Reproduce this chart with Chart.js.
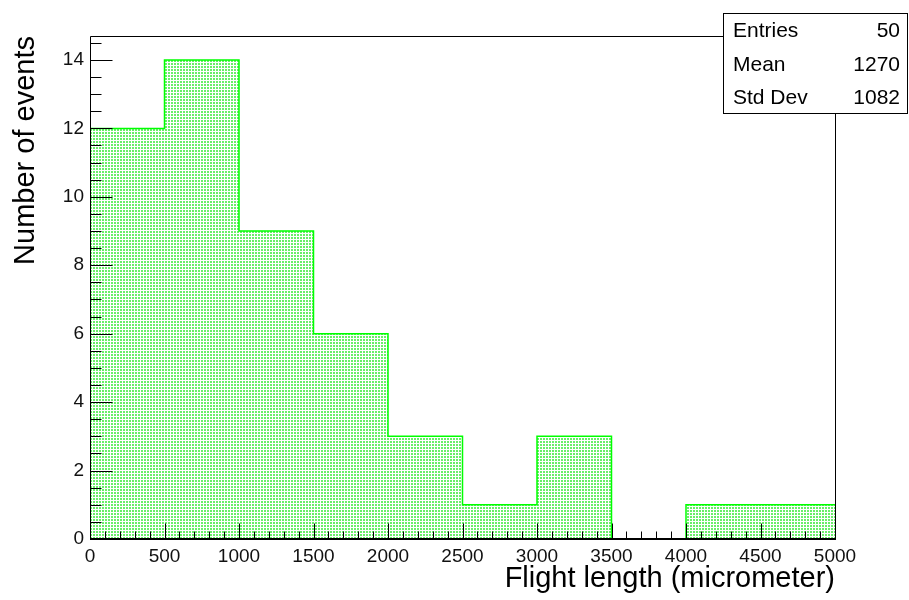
<!DOCTYPE html>
<html>
<head>
<meta charset="utf-8">
<script src="https://cdn.jsdelivr.net/npm/chart.js@4"></script>
<style>
  html, body { margin: 0; padding: 0; background: #fff; }
  #wrap { width: 909px; height: 600px; }
</style>
</head>
<body>
<div id="wrap"><canvas id="myChart" width="909" height="600"></canvas></div>
<script>
// histogram data (bin width 500 micrometer)
const binEdges = [0, 500, 1000, 1500, 2000, 2500, 3000, 3500, 4000, 4500, 5000];
const counts = [12, 14, 9, 6, 3, 1, 3, 0, 1, 1];
const xTickStep = 500;
const yTickStep = 2;
const statsLabels = ["Entries", "Mean", "Std Dev"];
const statsValues = ["50", "1270", "1082"];

const FONT = "'Liberation Sans', Arial, Helvetica, sans-serif";

// dotted green fill like ROOT's fill style
function makePattern() {
  const c = document.createElement("canvas");
  c.width = 3;
  c.height = 3;
  const g = c.getContext("2d");
  g.fillStyle = "#fff";
  g.fillRect(0, 0, 3, 3);
  g.fillStyle = "rgb(105,238,105)";
  g.fillRect(0, 0, 2, 2);
  return g.createPattern(c, "repeat");
}

// step outline points: left edge of every bin, then the last right edge
const points = counts.map((v, i) => ({ x: binEdges[i], y: v }));
points.push({ x: binEdges[binEdges.length - 1], y: counts[counts.length - 1] });

// frame + inward ticks (major and minor) like ROOT axes
const frameTicks = {
  id: "frameTicks",
  afterDatasetsDraw(chart) {
    const { ctx, chartArea: a, scales } = chart;
    const xs = scales.x, ys = scales.y;
    ctx.save();
    ctx.strokeStyle = "#000";
    ctx.lineWidth = 1;
    ctx.beginPath();
    ctx.rect(Math.round(a.left) + 0.5, Math.round(a.top) + 0.5,
      Math.round(a.right - a.left), Math.round(a.bottom - a.top));
    ctx.stroke();
    // bottom axis line a bit heavier
    ctx.fillStyle = "#000";
    ctx.fillRect(Math.round(a.left), Math.round(a.bottom) - 1, Math.round(a.right - a.left) + 1, 2);

    ctx.beginPath();
    const xb = Math.round(a.bottom) + 0.5;
    for (let v = xs.min; v <= xs.max + 1e-6; v += 100) {
      const px = Math.round(xs.getPixelForValue(v)) + 0.5;
      const len = (Math.abs(v % xTickStep) < 1e-6) ? 16 : 8;
      ctx.moveTo(px, xb);
      ctx.lineTo(px, xb - len);
    }
    const yl = Math.round(a.left) + 0.5;
    for (let v = 0; v <= ys.max + 1e-6; v += 0.5) {
      const py = Math.round(ys.getPixelForValue(v)) + 0.5;
      const len = (Math.abs(v % yTickStep) < 1e-6) ? 22 : 11;
      ctx.moveTo(yl, py);
      ctx.lineTo(yl + len, py);
    }
    ctx.stroke();
    ctx.restore();
  }
};

// statistics box in the upper right corner
const statsBox = {
  id: "statsBox",
  afterDraw(chart) {
    const ctx = chart.ctx;
    const left = 723, top = 13, right = chart.width - 2, bottom = 113;
    ctx.save();
    ctx.fillStyle = "#fff";
    ctx.fillRect(left, top, right - left, bottom - top);
    ctx.strokeStyle = "#000";
    ctx.lineWidth = 1;
    ctx.strokeRect(left + 0.5, top + 0.5, right - left, bottom - top);
    ctx.fillStyle = "#000";
    ctx.font = "21px " + FONT;
    ctx.textBaseline = "middle";
    const rowH = (bottom - top) / statsLabels.length;
    statsLabels.forEach((lab, i) => {
      const y = top + rowH * (i + 0.5) + 2;
      ctx.textAlign = "left";
      ctx.fillText(lab, left + 10, y);
      ctx.textAlign = "right";
      ctx.fillText(statsValues[i], right - 7, y);
    });
    ctx.restore();
  }
};

const config = {
  type: "line",
  data: {
    datasets: [{
      data: points,
      stepped: "before",
      fill: "origin",
      backgroundColor: makePattern(),
      borderColor: "#00ff00",
      borderWidth: 1.5,
      pointRadius: 0,
      tension: 0
    }]
  },
  options: {
    responsive: false,
    animation: false,
    events: [],
    layout: { padding: { top: 36, right: 74, left: 0, bottom: 0 } },
    plugins: { legend: { display: false }, tooltip: { enabled: false } },
    scales: {
      x: {
        type: "linear",
        min: binEdges[0],
        max: binEdges[binEdges.length - 1],
        afterFit: (s) => { s.height = 61; },
        grid: { drawOnChartArea: false, drawTicks: false },
        border: { display: false },
        ticks: {
          stepSize: xTickStep,
          padding: 6,
          color: "#111",
          maxRotation: 0,
          autoSkip: false,
          callback: (v) => String(v),
          font: { family: FONT, size: 19 }
        },
        title: {
          display: true,
          text: "Flight length (micrometer)",
          align: "end",
          color: "#000",
          font: { family: FONT, size: 29 },
          padding: { top: 0, bottom: 4 }
        }
      },
      y: {
        min: 0,
        max: 14.7,
        afterFit: (s) => { s.width = 90; },
        grid: { drawOnChartArea: false, drawTicks: false },
        border: { display: false },
        ticks: {
          stepSize: yTickStep,
          includeBounds: false,
          padding: 6,
          color: "#111",
          callback: (v) => String(v),
          font: { family: FONT, size: 19 }
        },
        title: {
          display: true,
          text: "Number of events",
          align: "end",
          color: "#000",
          font: { family: FONT, size: 29 },
          padding: { top: 9, bottom: 0 }
        }
      }
    }
  },
  plugins: [frameTicks, statsBox]
};

const myChart = new Chart(document.getElementById("myChart"), config);
</script>
</body>
</html>
